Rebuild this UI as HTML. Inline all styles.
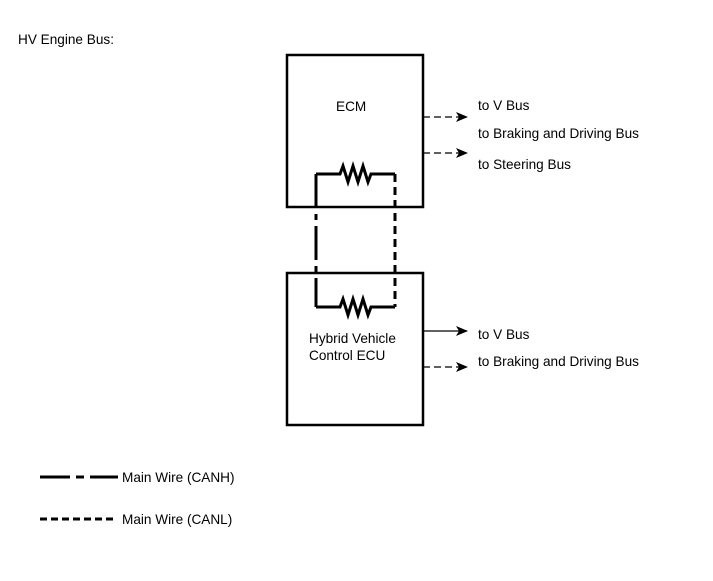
<!DOCTYPE html>
<html><head><style>body{margin:0;background:#fff}svg{display:block}text{font-family:"Liberation Sans",sans-serif;font-size:13.6px;fill:#000}</style></head>
<body>
<svg width="713" height="581" viewBox="0 0 713 581">
<defs><marker id="a" markerWidth="12" markerHeight="10" refX="11" refY="5" orient="auto" markerUnits="userSpaceOnUse"><path d="M0,0 L12,5 L0,10 L3,5 z" fill="#000"/></marker></defs>
<text x="18" y="44">HV Engine Bus:</text>
<rect x="287" y="55" width="136" height="152" fill="none" stroke="#000" stroke-width="2.5"/>
<rect x="287" y="273" width="136" height="152" fill="none" stroke="#000" stroke-width="2.5"/>
<text x="336" y="111">ECM</text>
<text x="309" y="343">Hybrid Vehicle</text>
<text x="309" y="360">Control ECU</text>
<path d="M316,174 H340 l3,-8 l5,16 l5,-16 l5,16 l5,-16 l5,16 l3,-8 H395" fill="none" stroke="#000" stroke-width="3"/>
<path d="M316,307 H340 l3,-8 l5,16 l5,-16 l5,16 l5,-16 l5,16 l3,-8 H395" fill="none" stroke="#000" stroke-width="3"/>
<line x1="316" y1="174" x2="316" y2="307" stroke="#000" stroke-width="3" stroke-dasharray="34,6,6,6"/>
<line x1="395" y1="174" x2="395" y2="307" stroke="#000" stroke-width="3" stroke-dasharray="8,5"/>
<line x1="423" y1="117" x2="467" y2="117" stroke="#000" stroke-width="1.3" stroke-dasharray="7,4" marker-end="url(#a)"/>
<line x1="423" y1="153" x2="467" y2="153" stroke="#000" stroke-width="1.3" stroke-dasharray="7,4" marker-end="url(#a)"/>
<line x1="423" y1="331" x2="467" y2="331" stroke="#000" stroke-width="1.3" marker-end="url(#a)"/>
<line x1="423" y1="367" x2="467" y2="367" stroke="#000" stroke-width="1.3" stroke-dasharray="7,4" marker-end="url(#a)"/>
<text x="478" y="110">to V Bus</text>
<text x="478" y="138">to Braking and Driving Bus</text>
<text x="478" y="169">to Steering Bus</text>
<text x="478" y="339">to V Bus</text>
<text x="478" y="366">to Braking and Driving Bus</text>
<line x1="40" y1="477" x2="118" y2="477" stroke="#000" stroke-width="3" stroke-dasharray="30,6,8,6"/>
<text x="122" y="482">Main Wire (CANH)</text>
<line x1="40" y1="519" x2="117" y2="519" stroke="#000" stroke-width="3" stroke-dasharray="7,4"/>
<text x="122" y="524">Main Wire (CANL)</text>
</svg>
</body></html>
